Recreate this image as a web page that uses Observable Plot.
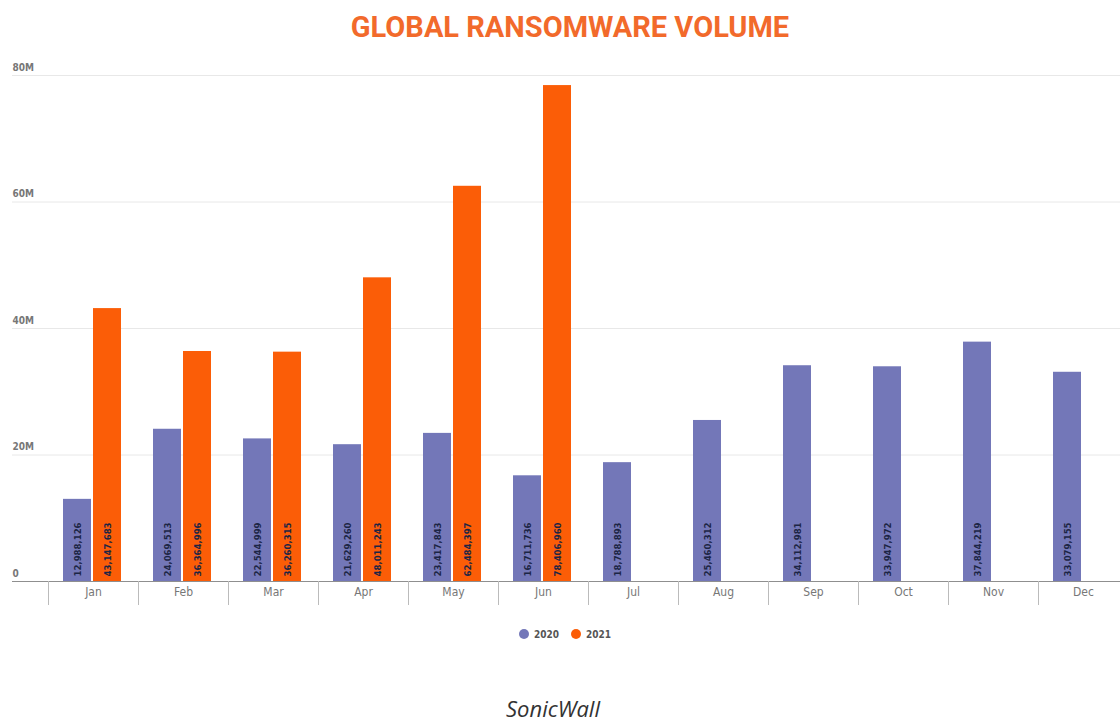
<!DOCTYPE html>
<html>
<head>
<meta charset="utf-8">
<script src="https://cdn.jsdelivr.net/npm/d3@7"></script>
<script src="https://cdn.jsdelivr.net/npm/@observablehq/plot@0.6"></script>
<style>
  html, body { margin: 0; padding: 0; background: #fff; overflow: hidden; width: 1120px; height: 725px; }
  #wrap { position: relative; width: 1120px; height: 725px; overflow: hidden; }
  #title { position: absolute; left: 0; width: 1140px; top: 10px; text-align: center;
    font-family: Roboto, "DejaVu Sans", sans-serif; font-weight: 700; font-size: 29px; line-height: 34px;
    color: #f26a2b; letter-spacing: 0px; }
  #chart { position: absolute; left: 0; top: 55px; width: 1140px; }
  #chart svg { max-width: none !important; }
  #legend { position: absolute; left: 0; width: 1130px; top: 629px; text-align: center;
    font-family: "DejaVu Sans", sans-serif; font-weight: 700; font-size: 10px; color: #555; font-stretch: condensed; }
  #legend span.item { display: inline-block; margin: 0 6px; }
  #legend span.dot { display: inline-block; width: 10px; height: 10px; border-radius: 50%; vertical-align: -1px; margin-right: 5px; }
  #caption { position: absolute; left: 0; width: 1106px; top: 696px; text-align: center;
    font-family: "Open Sans", sans-serif; font-style: italic; font-size: 22px; line-height: 24px; color: #333; }
</style>
</head>
<body>
<div id="wrap">
  <div id="title">GLOBAL RANSOMWARE VOLUME</div>
  <div id="chart"></div>
  <div id="legend"></div>
  <div id="caption">SonicWall</div>
</div>
<script>
const months = ["Jan", "Feb", "Mar", "Apr", "May", "Jun", "Jul", "Aug", "Sep", "Oct", "Nov", "Dec"];
const series = ["2020", "2021"];
const values2020 = [12988126, 24069513, 22544999, 21629260, 23417843, 16711736, 18788893, 25460312, 34112981, 33947972, 37844219, 33079155];
const values2021 = [43147683, 36364996, 36260315, 48011243, 62484397, 78406960];
const yTicks = [0, 20000000, 40000000, 60000000, 80000000];
const yTickLabels = ["0", "20M", "40M", "60M", "80M"];
const colors = ["#7377b8", "#fb5d07"];

const rows2020 = values2020.map((v, i) => ({month: months[i], value: v}));
const rows2021 = values2021.map((v, i) => ({month: months[i], value: v}));
const fmt = d3.format(",");

const W = 1140, ML = 12, MR = 12, INSET = 36;
const step = (W - ML - MR - INSET) / months.length;
const font = "'DejaVu Sans Condensed', 'Liberation Sans Narrow', 'DejaVu Sans', sans-serif";

const chart = Plot.plot({
  width: W,
  height: 572,
  marginTop: 20,
  marginBottom: 46,
  marginLeft: ML,
  marginRight: MR,
  x: {domain: months, padding: 0, insetLeft: INSET},
  y: {domain: [0, 80000000], axis: null},
  style: {fontFamily: font, background: "transparent", maxWidth: "none"},
  marks: [
    Plot.ruleY(yTicks.slice(1), {stroke: "#e8e8e8", strokeWidth: 1}),
    Plot.text(yTicks, {y: d => d, text: (d, i) => yTickLabels[i], frameAnchor: "left", textAnchor: "start",
      dy: -8, fill: "#777", fontSize: 10, fontWeight: 700, fontStretch: "condensed"}),
    Plot.barY(rows2020, {x: "month", y: "value", fill: colors[0], insetLeft: 15, insetRight: 47}),
    Plot.barY(rows2021, {x: "month", y: "value", fill: colors[1], insetLeft: 45, insetRight: 17}),
    Plot.text(rows2020, {x: "month", y: d => 0, text: d => fmt(d.value), rotate: -90, textAnchor: "start",
      lineAnchor: "middle", dx: -16, dy: -5, fill: "#1c2545", fontSize: 9.5, fontWeight: 700}),
    Plot.text(rows2021, {x: "month", y: d => 0, text: d => fmt(d.value), rotate: -90, textAnchor: "start",
      lineAnchor: "middle", dx: 14, dy: -5, fill: "#1c2545", fontSize: 9.5, fontWeight: 700}),
    Plot.ruleY([0], {stroke: "#8f8f8f", strokeWidth: 1.2}),
    Plot.axisX({tickSize: 24, tickFormat: () => "", dx: -step / 2, stroke: "#bbb", label: null}),
    Plot.axisX({tickSize: 0, tickPadding: 6, fill: "#777", fontSize: 12, label: null})
  ]
});
document.getElementById("chart").appendChild(chart);

const legend = document.getElementById("legend");
series.forEach((s, i) => {
  const item = document.createElement("span");
  item.className = "item";
  const dot = document.createElement("span");
  dot.className = "dot";
  dot.style.background = colors[i];
  item.appendChild(dot);
  item.appendChild(document.createTextNode(s));
  legend.appendChild(item);
});
</script>
</body>
</html>
